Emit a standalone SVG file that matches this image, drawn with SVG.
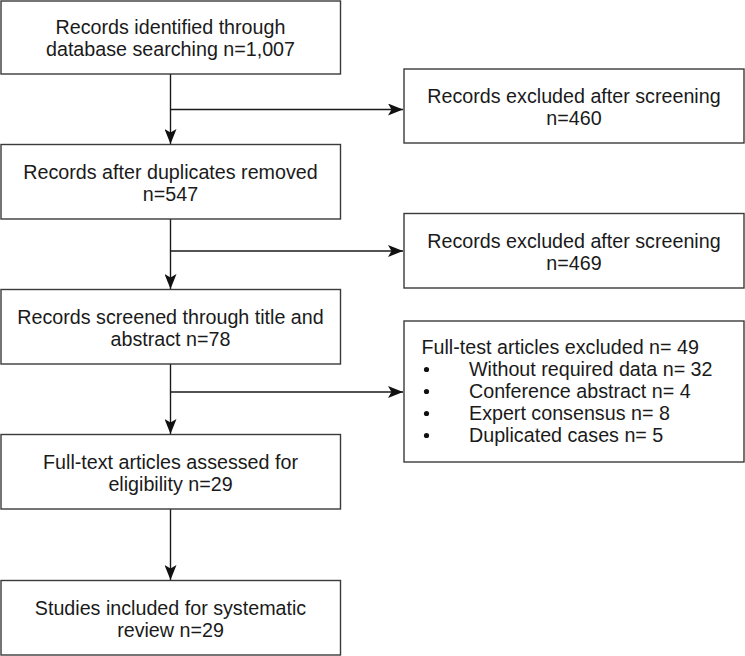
<svg xmlns="http://www.w3.org/2000/svg" width="745" height="656" viewBox="0 0 745 656">
<style>
.box{fill:#fff;stroke:#3a3a3a;stroke-width:1.4}
.t{font-family:"Liberation Sans",Arial,Helvetica,sans-serif;font-size:19.7px;fill:#1a1a1a}
.c{text-anchor:middle}
.ln{fill:none;stroke:#1a1a1a;stroke-width:1.4}
</style>
<defs>
<marker id="ah" markerWidth="16" markerHeight="12" refX="15" refY="6" orient="auto" markerUnits="userSpaceOnUse">
<path d="M0,0 L15,6 L0,12 L3.5,6 Z" fill="#111"/>
</marker>
</defs>
<rect width="745" height="656" fill="#fff"/>
<g id="connectors">
<line class="ln" x1="170.5" y1="74" x2="170.5" y2="144" marker-end="url(#ah)"/>
<line class="ln" x1="170.5" y1="109.5" x2="403" y2="109.5" marker-end="url(#ah)"/>
<line class="ln" x1="170.5" y1="219" x2="170.5" y2="289" marker-end="url(#ah)"/>
<line class="ln" x1="170.5" y1="251" x2="403" y2="251" marker-end="url(#ah)"/>
<line class="ln" x1="170.5" y1="364" x2="170.5" y2="434" marker-end="url(#ah)"/>
<line class="ln" x1="170.5" y1="392" x2="403" y2="392" marker-end="url(#ah)"/>
<line class="ln" x1="170.5" y1="509" x2="170.5" y2="580" marker-end="url(#ah)"/>
</g>
<g id="n1">
<rect class="box" x="1" y="1" width="339.5" height="73"/>
<text class="t c" x="170.5" y="33.5">Records identified through</text>
<text class="t c" x="170.5" y="55.5">database searching n=1,007</text>
</g>
<g id="n2">
<rect class="box" x="1" y="144.5" width="339.5" height="74.5"/>
<text class="t c" x="170.5" y="178.5">Records after duplicates removed</text>
<text class="t c" x="170.5" y="200.5">n=547</text>
</g>
<g id="n3">
<rect class="box" x="1" y="289.5" width="339.5" height="74.5"/>
<text class="t c" x="170.5" y="323.5">Records screened through title and</text>
<text class="t c" x="170.5" y="345.5">abstract n=78</text>
</g>
<g id="n4">
<rect class="box" x="1" y="434.5" width="339.5" height="74.5"/>
<text class="t c" x="170.5" y="468.5">Full-text articles assessed for</text>
<text class="t c" x="170.5" y="490.5">eligibility n=29</text>
</g>
<g id="n5">
<rect class="box" x="1" y="580.5" width="339.5" height="74.5"/>
<text class="t c" x="170.5" y="614.5">Studies included for systematic</text>
<text class="t c" x="170.5" y="636.5">review n=29</text>
</g>
<g id="r1">
<rect class="box" x="404" y="69" width="340" height="74"/>
<text class="t c" x="574" y="102.5">Records excluded after screening</text>
<text class="t c" x="574" y="124.5">n=460</text>
</g>
<g id="r2">
<rect class="box" x="404" y="213.5" width="340" height="74.5"/>
<text class="t c" x="574" y="247.5">Records excluded after screening</text>
<text class="t c" x="574" y="269.5">n=469</text>
</g>
<g id="r3">
<rect class="box" x="404" y="321" width="340" height="141"/>
<text class="t" x="421.5" y="353.5">Full-test articles excluded n= 49</text>
<circle cx="426.5" cy="369.5" r="2.6" fill="#111"/>
<text class="t" x="469" y="376">Without required data n= 32</text>
<circle cx="426.5" cy="391.5" r="2.6" fill="#111"/>
<text class="t" x="469" y="398">Conference abstract n= 4</text>
<circle cx="426.5" cy="413.5" r="2.6" fill="#111"/>
<text class="t" x="469" y="420">Expert consensus n= 8</text>
<circle cx="426.5" cy="435.5" r="2.6" fill="#111"/>
<text class="t" x="469" y="442">Duplicated cases n= 5</text>
</g>
</svg>
